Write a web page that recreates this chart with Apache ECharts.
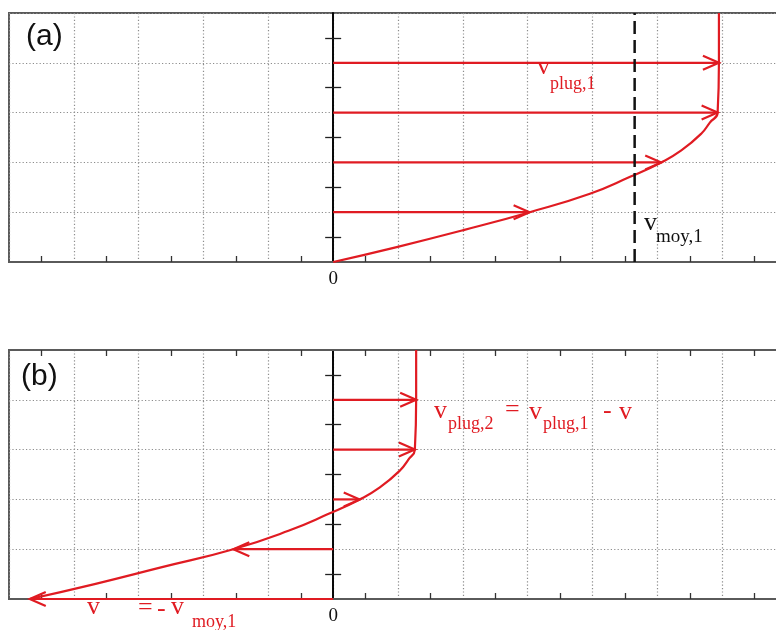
<!DOCTYPE html>
<html>
<head>
<meta charset="utf-8">
<script src="https://cdn.jsdelivr.net/npm/echarts@6/dist/echarts.min.js"></script>
<style>
  html, body { margin: 0; padding: 0; background: #fff; }
  #chart { width: 776px; height: 630px; }
</style>
</head>
<body>
<div id="chart"></div>
<script>
// Heights across the channel (wall at 0) and the velocity profile at each height
const heightLevels = [0, 0.3, 0.64, 1, 1.37, 1.71, 2, 2.24, 2.58, 2.8, 3, 4, 5];
// (a) profile with a plug region in the upper part
const velocityA = [0, 0.98, 2.01, 3.03, 3.96, 4.58, 5.06, 5.37, 5.68, 5.81, 5.93, 5.95, 5.95];
// (b) same profile seen in the frame moving at the mean velocity
const velocityB = [-4.68, -3.68, -2.64, -1.54, -0.69, -0.07, 0.41, 0.72, 1.03, 1.16, 1.26, 1.28, 1.28];
// mean velocity (dashed line in a)
const meanVelocity = 4.65;
// heights where velocity arrows are drawn
const arrowLevelsA = [1, 2, 3, 4];
const arrowLevelsB = [0, 1, 2, 3, 4];
// axis ranges
const xRange = [-5, 7];
const yRange = [0, 5];

const RED = '#e01b22';
const FRAME = '#5a5a5a';
const GRID = '#8c8c8c';
const SERIF = 'Liberation Serif';
const SANS = 'Liberation Sans';

const chart = echarts.init(document.getElementById('chart'), null, { renderer: 'canvas' });

const dotted = { color: GRID, width: 1.2, type: [1.2, 2.2] };

function bottomX(gridIndex) {
  return {
    type: 'value', gridIndex, min: xRange[0], max: xRange[1], interval: 1,
    position: 'bottom',
    axisLine: { show: true, onZero: false, lineStyle: { color: FRAME, width: 2 } },
    axisTick: { show: false, inside: true },
    minorTick: { show: true, splitNumber: 2, length: 6, lineStyle: { color: '#333', width: 1.3 } },
    splitLine: { show: true, lineStyle: dotted },
    axisLabel: {
      formatter: v => (v === 0 ? '0' : ''),
      fontFamily: SERIF, fontSize: 19, color: '#111', margin: 8
    }
  };
}

// top axis: ticked in (b), only a silent partner for the zero line in (a)
function topX(gridIndex, ticks) {
  return {
    type: 'value', gridIndex, min: xRange[0], max: xRange[1], interval: 1,
    position: 'top',
    axisLine: { show: ticks, onZero: false, lineStyle: { color: FRAME, width: 2 } },
    axisTick: { show: false, inside: true },
    minorTick: { show: ticks, splitNumber: 2, length: 6, lineStyle: { color: '#333', width: 1.3 } },
    splitLine: { show: false },
    axisLabel: { show: false }
  };
}

// vertical zero line; a left and a right copy give ticks crossing the line
function zeroY(gridIndex, side, withGrid, xIndex) {
  return {
    type: 'value', gridIndex, min: yRange[0], max: yRange[1], interval: 1,
    position: side,
    axisLine: { show: true, onZero: true, onZeroAxisIndex: xIndex, lineStyle: { color: '#000', width: 1.6 } },
    axisTick: { show: false },
    minorTick: { show: true, splitNumber: 2, length: 8, lineStyle: { color: '#222', width: 1.3 } },
    splitLine: { show: withGrid, lineStyle: dotted },
    axisLabel: { show: false }
  };
}

function profileSeries(axisIdx, velocities) {
  return {
    type: 'line', xAxisIndex: axisIdx * 2, yAxisIndex: axisIdx * 2,
    data: heightLevels.map((h, i) => [velocities[i], h]),
    symbol: 'none', smooth: 0.5,
    lineStyle: { color: RED, width: 2.2 },
    z: 4, silent: true
  };
}

function arrowSeries(axisIdx, velocities, levels) {
  return {
    type: 'custom', xAxisIndex: axisIdx * 2, yAxisIndex: axisIdx * 2,
    data: levels.map(lv => [velocities[heightLevels.indexOf(lv)], lv]),
    encode: { x: 0, y: 1 },
    silent: true, z: 3,
    renderItem(params, api) {
      const tip = api.coord([api.value(0), api.value(1)]);
      const base = api.coord([0, api.value(1)]);
      const dir = tip[0] >= base[0] ? 1 : -1;
      const L = 16, H = 7;
      return {
        type: 'group',
        children: [
          { type: 'line', shape: { x1: base[0], y1: base[1], x2: tip[0], y2: tip[1] },
            style: { stroke: RED, lineWidth: 2.2 } },
          { type: 'polyline',
            shape: { points: [[tip[0] - dir * L, tip[1] - H], [tip[0], tip[1]], [tip[0] - dir * L, tip[1] + H]] },
            style: { stroke: RED, lineWidth: 2.2, fill: null } }
        ]
      };
    }
  };
}

function label(text, x, y, size, color, family) {
  return {
    type: 'text', x, y, silent: true, z: 10,
    style: {
      text, fill: color, fontSize: size, fontFamily: family || SERIF,
      align: 'left', verticalAlign: 'middle'
    }
  };
}

const gridBase = {
  left: 9, width: 778, height: 249, show: true, containLabel: false, outerBoundsMode: 'none',
  borderColor: FRAME, borderWidth: 2, backgroundColor: 'transparent'
};

const option = {
  animation: false,
  backgroundColor: '#fff',
  grid: [
    Object.assign({ top: 13 }, gridBase),
    Object.assign({ top: 350 }, gridBase)
  ],
  xAxis: [bottomX(0), topX(0, false), bottomX(1), topX(1, true)],
  yAxis: [
    zeroY(0, 'left', true, 0), zeroY(0, 'right', false, 1),
    zeroY(1, 'left', true, 2), zeroY(1, 'right', false, 3)
  ],
  series: [
    // panel (a)
    arrowSeries(0, velocityA, arrowLevelsA),
    profileSeries(0, velocityA),
    {
      type: 'line', xAxisIndex: 0, yAxisIndex: 0,
      data: [[meanVelocity, yRange[0]], [meanVelocity, yRange[1]]],
      symbol: 'none', silent: true, z: 5,
      lineStyle: { color: '#111', width: 2.5, type: [13, 6] }
    },
    // panel (b)
    arrowSeries(1, velocityB, arrowLevelsB),
    profileSeries(1, velocityB)
  ],
  graphic: [
    label('(a)', 26, 37, 30, '#111', SANS),
    label('(b)', 21, 377, 30, '#111', SANS),
    label('v', 537, 67, 26, RED),
    label('plug,1', 550, 84.5, 18, RED),
    label('v', 644, 223, 26, '#111'),
    label('moy,1', 656, 237, 19, '#111'),
    label('v', 434, 411.5, 26, RED),
    label('plug,2', 448, 424, 18, RED),
    label('=', 505, 410, 26, RED),
    label('v', 529, 412, 26, RED),
    label('plug,1', 543, 424, 18, RED),
    label('-', 603, 411, 26, RED),
    label('v', 619, 412, 26, RED),
    label('v', 87, 607, 26, RED),
    label('=', 138, 608, 26, RED),
    label('-', 157, 609, 26, RED),
    label('v', 171, 607, 26, RED),
    label('moy,1', 192, 622, 18, RED)
  ]
};

chart.setOption(option);
</script>
</body>
</html>
